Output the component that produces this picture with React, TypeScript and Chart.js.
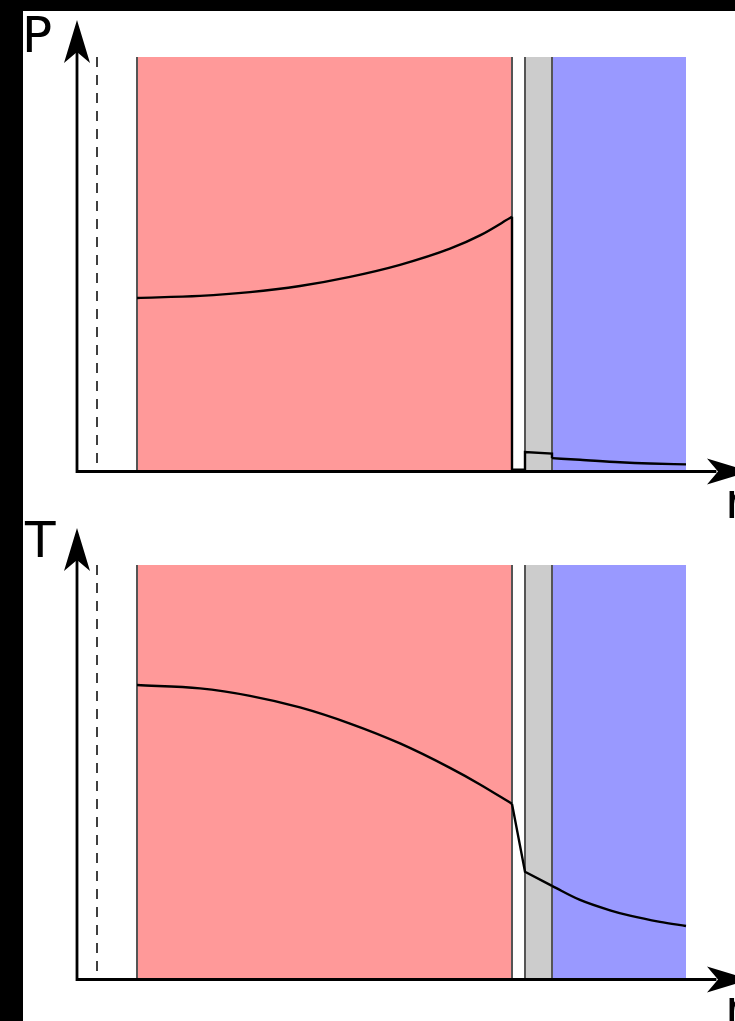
import React, { useEffect, useRef } from 'react';
import { Chart, registerables } from 'chart.js';

Chart.register(...registerables);

// ---- data (radial position r, arbitrary units) ----
const X_MAX = 65.8;
const Y_MAX = 100;
const centerLineR = 2.0;
const regionStart = [6.0, 44.8, 47.5];
const regionEnd = [43.5, 47.5, 60.9];
const regionColors = ['#ff9999', '#cccccc', '#9999ff'];
const boundaryR = [6.0, 43.5, 44.8, 47.5];

// Pressure profile
const pFuelR = [6.0, 12.3, 17.3, 22.3, 27.3, 32.3, 37.3, 40.3, 43.5];
const pFuel = [41.8, 42.3, 43.2, 44.7, 46.9, 49.8, 53.7, 56.9, 61.4];
const pStepR = [43.5, 43.5, 44.8, 44.8, 47.5, 47.5];
const pStep = [61.4, 0.3, 0.3, 4.6, 4.2, 3.1];
const pCoolR = [47.5, 50.3, 54.3, 57.3, 60.9];
const pCool = [3.1, 2.7, 2.1, 1.8, 1.6];

// Temperature profile
const tFuelR = [6.0, 12.3, 17.3, 22.3, 27.3, 32.3, 37.3, 40.3, 43.5];
const tFuel = [71.0, 70.2, 68.4, 65.6, 61.7, 56.9, 51.0, 47.0, 42.3];
const tStepR = [43.5, 44.8, 47.5];
const tStep = [42.3, 25.9, 22.5];
const tCoolR = [47.5, 50.3, 53.3, 55.3, 58.3, 60.9];
const tCool = [22.5, 19.1, 16.6, 15.3, 13.8, 12.8];

type Curve = { r: number[]; v: number[]; smooth: boolean };

function buildDatasets(curves: Curve[]) {
  const ds: any[] = [];
  curves.forEach((c) =>
    ds.push({
      data: c.r.map((r, i) => ({ x: r, y: c.v[i] })),
      borderColor: '#000',
      borderWidth: 2.4,
      tension: c.smooth ? 0.4 : 0,
      cubicInterpolationMode: c.smooth ? 'monotone' : 'default',
      borderJoinStyle: 'miter',
      fill: false,
      pointRadius: 0,
      order: 0,
    })
  );
  boundaryR.forEach((r) =>
    ds.push({
      data: [
        { x: r, y: 0 },
        { x: r, y: Y_MAX },
      ],
      borderColor: '#555',
      borderWidth: 2,
      fill: false,
      pointRadius: 0,
      order: 1,
    })
  );
  ds.push({
    data: [
      { x: centerLineR, y: Y_MAX },
      { x: centerLineR, y: 0 },
    ],
    borderColor: '#000',
    borderWidth: 1.5,
    borderDash: [10, 8],
    fill: false,
    pointRadius: 0,
    order: 1,
  });
  regionStart.forEach((s, i) =>
    ds.push({
      data: [
        { x: s, y: Y_MAX },
        { x: regionEnd[i], y: Y_MAX },
      ],
      borderColor: 'rgba(0,0,0,0)',
      borderWidth: 0,
      backgroundColor: regionColors[i],
      fill: 'origin',
      pointRadius: 0,
      order: 2,
    })
  );
  return ds;
}

const axesPlugin = {
  id: 'axesArrows',
  afterDatasetsDraw(chart: any) {
    const { ctx, chartArea: a } = chart;
    const x0 = chart.scales.x.getPixelForValue(0);
    const y0 = chart.scales.y.getPixelForValue(0) + 0.5;
    ctx.save();
    ctx.strokeStyle = '#000';
    ctx.lineWidth = 2.8;
    ctx.lineCap = 'square';
    ctx.beginPath();
    ctx.moveTo(x0, a.top - 8);
    ctx.lineTo(x0, y0);
    ctx.lineTo(a.right - 20, y0);
    ctx.stroke();
    ctx.fillStyle = '#000';
    // y arrow
    ctx.beginPath();
    ctx.moveTo(x0, a.top - 37);
    ctx.lineTo(x0 + 13, a.top + 6);
    ctx.lineTo(x0, a.top - 5);
    ctx.lineTo(x0 - 13, a.top + 6);
    ctx.closePath();
    ctx.fill();
    // x arrow
    const xr = a.right;
    ctx.beginPath();
    ctx.moveTo(xr + 15, y0);
    ctx.lineTo(xr - 28, y0 - 13);
    ctx.lineTo(xr - 17, y0);
    ctx.lineTo(xr - 28, y0 + 13);
    ctx.closePath();
    ctx.fill();
    ctx.restore();
  },
};

function Panel(props: { curves: Curve[]; top: number; height: number; padTop: number; padBottom: number }) {
  const ref = useRef<HTMLCanvasElement>(null);
  useEffect(() => {
    if (!ref.current) return;
    const chart = new Chart(ref.current, {
      type: 'line',
      data: { datasets: buildDatasets(props.curves) },
      options: {
        animation: false,
        responsive: false,
        events: [],
        layout: { padding: { left: 54, top: props.padTop, right: 0, bottom: props.padBottom } },
        plugins: { legend: { display: false }, tooltip: { enabled: false } },
        scales: {
          x: { type: 'linear', min: 0, max: X_MAX, display: false },
          y: { type: 'linear', min: 0, max: Y_MAX, display: false },
        },
      },
      plugins: [axesPlugin],
    } as any);
    return () => chart.destroy();
  }, []);
  return (
    <canvas
      ref={ref}
      width={712}
      height={props.height}
      style={{ position: 'absolute', left: 23, top: props.top, width: 712, height: props.height, background: '#fff' }}
    />
  );
}

const labelStyle: React.CSSProperties = {
  position: 'absolute',
  fontFamily: '"DejaVu Sans", sans-serif',
  fontSize: 50,
  lineHeight: 1,
  color: '#000',
  whiteSpace: 'nowrap',
};

export default function App() {
  return (
    <div
      style={{
        position: 'fixed',
        left: 0,
        top: 0,
        width: 735,
        height: 1021,
        background: '#000',
        overflow: 'hidden',
      }}
    >
      <Panel
        curves={[
          { r: pFuelR, v: pFuel, smooth: true },
          { r: pStepR, v: pStep, smooth: false },
          { r: pCoolR, v: pCool, smooth: true },
        ]}
        top={11}
        height={497}
        padTop={46}
        padBottom={37}
      />
      <Panel
        curves={[
          { r: tFuelR, v: tFuel, smooth: true },
          { r: tStepR, v: tStep, smooth: false },
          { r: tCoolR, v: tCool, smooth: true },
        ]}
        top={508}
        height={513}
        padTop={57}
        padBottom={42}
      />
      <div style={{ ...labelStyle, left: 22, top: 10 }}>P</div>
      <div style={{ ...labelStyle, left: 25, top: 515 }}>T</div>
      <div style={{ ...labelStyle, left: 725, top: 476 }}>r</div>
      <div style={{ ...labelStyle, left: 725, top: 983 }}>r</div>
    </div>
  );
}
